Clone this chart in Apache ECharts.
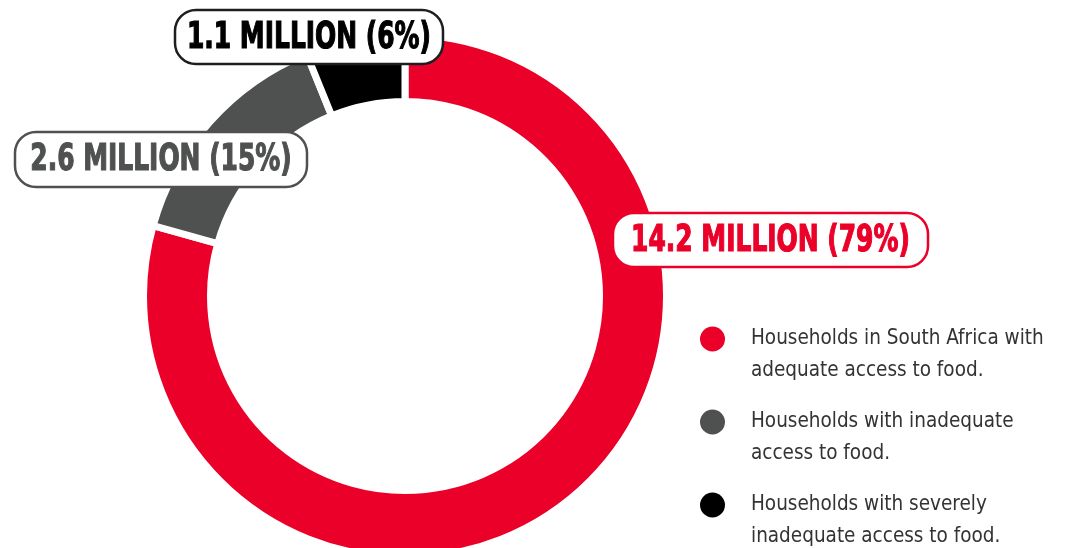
<!DOCTYPE html>
<html>
<head>
<meta charset="utf-8">
<title>Household food access in South Africa</title>
<script src="https://cdn.jsdelivr.net/npm/echarts@6/dist/echarts.min.js"></script>
<style>
  html, body { margin: 0; padding: 0; background: #ffffff; }
  #chart { width: 1066px; height: 548px; }
</style>
</head>
<body>
<div id="chart"></div>
<script>
// Households by level of food access (millions)
const categories = [
  'Households in South Africa with\nadequate access to food.',
  'Households with inadequate\naccess to food.',
  'Households with severely\ninadequate access to food.'
];
const householdsMillions = [14.2, 2.6, 1.1];
const sliceColors = ['#ea0029', '#4f5150', '#000000'];
const calloutBorders = ['#ea0029', '#4f5150', '#1c1f22'];

const total = householdsMillions.reduce((a, b) => a + b, 0);
const calloutText = householdsMillions.map(v =>
  v.toFixed(1) + ' MILLION (' + Math.round(v / total * 100) + '%)'
);

// callout boxes: centre and size in pixels
const calloutBoxes = [
  { cx: 770.5, cy: 240, w: 315, h: 54 },
  { cx: 161, cy: 159.5, w: 292, h: 55 },
  { cx: 309, cy: 37, w: 268, h: 54 }
];

const chart = echarts.init(document.getElementById('chart'), null, { renderer: 'canvas' });

const callouts = calloutText.map((txt, i) => {
  const b = calloutBoxes[i];
  return {
    type: 'group',
    z: 100,
    children: [
      {
        type: 'rect',
        z: 100,
        shape: { x: b.cx - b.w / 2, y: b.cy - b.h / 2, width: b.w, height: b.h, r: 21 },
        style: { fill: '#ffffff', stroke: calloutBorders[i], lineWidth: 2.5 }
      },
      {
        type: 'text',
        z: 101,
        x: b.cx,
        y: b.cy + 1,
        scaleX: 0.73,
        style: {
          text: txt,
          fill: sliceColors[i],
          stroke: sliceColors[i],
          lineWidth: 1.2,
          fontFamily: "'DejaVu Sans Condensed', 'DejaVu Sans', sans-serif",
          fontWeight: 'bold',
          fontSize: 38,
          align: 'center',
          verticalAlign: 'middle'
        }
      }
    ]
  };
});

chart.setOption({
  animation: false,
  backgroundColor: '#ffffff',
  color: sliceColors,
  legend: {
    orient: 'vertical',
    left: 698,
    top: 291,
    height: 300,
    padding: 0,
    itemGap: -13,
    itemWidth: 27,
    itemHeight: 27,
    icon: 'circle',
    selectedMode: false,
    data: categories,
    // a leading blank line keeps the marker level with the first text line
    formatter: name => '\n' + name,
    textStyle: {
      color: '#333333',
      fontFamily: "'DejaVu Sans Condensed', sans-serif",
      fontSize: 20.5,
      lineHeight: 32,
      padding: [0, 0, 0, 20]
    }
  },
  series: [{
    type: 'pie',
    z: 1,
    center: [405, 296],
    radius: [194.5, 261.5],
    startAngle: 90,
    clockwise: true,
    silent: true,
    label: { show: false },
    labelLine: { show: false },
    itemStyle: { borderColor: '#ffffff', borderWidth: 7 },
    emphasis: { disabled: true },
    data: categories.map((name, i) => ({ name, value: householdsMillions[i] }))
  }],
  graphic: callouts
});
</script>
</body>
</html>
